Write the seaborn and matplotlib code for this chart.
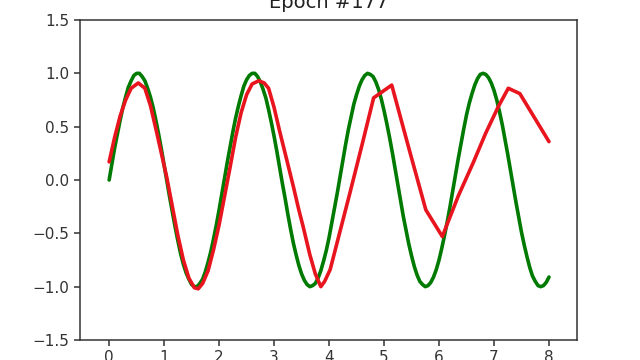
import matplotlib
matplotlib.use("Agg")
import matplotlib.pyplot as plt
import seaborn as sns
import numpy as np
import pandas as pd

title = "Epoch #177"

# green target curve, read every 0.1 on x from 0 to 8
green_x = [round(0.1 * i, 1) for i in range(81)]
green_y = [0.00, 0.30, 0.56, 0.78, 0.93, 1.00, 0.97, 0.86, 0.68, 0.43,
           0.14, -0.16, -0.44, -0.69, -0.87, -0.98, -1.00, -0.93, -0.77, -0.55,
           -0.28, 0.02, 0.31, 0.58, 0.79, 0.94, 1.00, 0.97, 0.85, 0.66,
           0.41, 0.12, -0.17, -0.46, -0.70, -0.88, -0.98, -0.99, -0.92, -0.76,
           -0.54, -0.26, 0.03, 0.33, 0.59, 0.80, 0.94, 1.00, 0.97, 0.85,
           0.65, 0.40, 0.11, -0.19, -0.47, -0.71, -0.89, -0.98, -0.99, -0.91,
           -0.75, -0.52, -0.25, 0.05, 0.34, 0.61, 0.81, 0.95, 1.00, 0.96,
           0.84, 0.64, 0.38, 0.09, -0.21, -0.49, -0.72, -0.90, -0.99, -0.99,
           -0.91]
# green values read half-way between those points (x = 0.05, 0.15, ... 7.95)
green_mid_x = [round(0.05 + 0.1 * i, 2) for i in range(80)]
green_mid_y = [0.15, 0.43, 0.68, 0.87, 0.98, 1.00, 0.93, 0.78, 0.56, 0.29,
               -0.01, -0.30, -0.57, -0.79, -0.93, -1.00, -0.97, -0.86, -0.67, -0.42,
               -0.13, 0.17, 0.45, 0.69, 0.88, 0.98, 1.00, 0.92, 0.77, 0.54,
               0.27, -0.03, -0.32, -0.59, -0.80, -0.94, -1.00, -0.97, -0.85, -0.66,
               -0.40, -0.12, 0.18, 0.47, 0.71, 0.88, 0.98, 0.99, 0.92, 0.76,
               0.53, 0.26, -0.04, -0.34, -0.60, -0.81, -0.95, -1.00, -0.96, -0.84,
               -0.64, -0.39, -0.10, 0.20, 0.48, 0.72, 0.89, 0.99, 0.99, 0.91,
               0.75, 0.52, 0.24, -0.06, -0.35, -0.61, -0.82, -0.95, -1.00, -0.96]

# red predicted curve
red_x = [0.00, 0.10, 0.20, 0.30, 0.40, 0.53, 0.65, 0.75, 0.85, 0.95,
         1.05, 1.15, 1.25, 1.35, 1.45, 1.55, 1.62, 1.70, 1.80, 1.90,
         2.00, 2.10, 2.20, 2.30, 2.40, 2.50, 2.60, 2.72, 2.82, 2.90,
         3.00, 3.10, 3.23, 3.35, 3.45, 3.53, 3.65, 3.75, 3.85, 3.92,
         4.02, 4.20, 4.38, 4.60, 4.81, 5.14, 5.45, 5.76, 6.06, 6.35,
         6.62, 6.85, 7.08, 7.26, 7.47, 8.00]
red_y = [0.17, 0.40, 0.60, 0.75, 0.86, 0.91, 0.86, 0.70, 0.48, 0.25,
         0.02, -0.25, -0.52, -0.75, -0.92, -1.01, -1.02, -0.97, -0.85, -0.65,
         -0.42, -0.15, 0.12, 0.40, 0.63, 0.80, 0.90, 0.93, 0.91, 0.86,
         0.68, 0.46, 0.19, -0.06, -0.28, -0.44, -0.70, -0.88, -1.00, -0.95,
         -0.84, -0.48, -0.12, 0.33, 0.77, 0.89, 0.30, -0.28, -0.53, -0.15,
         0.16, 0.44, 0.69, 0.86, 0.81, 0.36]

yticks = [-1.5, -1.0, -0.5, 0.0, 0.5, 1.0, 1.5]
xticks = [0, 1, 2, 3, 4, 5, 6, 7, 8]

sns.set_theme(style="ticks")
plt.rcParams["font.family"] = ["DejaVu Sans"]
plt.rcParams["axes.edgecolor"] = "#333333"
plt.rcParams["xtick.color"] = "#333333"
plt.rcParams["ytick.color"] = "#333333"
plt.rcParams["axes.linewidth"] = 1.1

fig = plt.figure(figsize=(6.4, 3.6), dpi=100)
ax = fig.add_axes([0.125, 0.0556, 0.7766, 0.8888])

gdf = pd.concat([pd.DataFrame({"x": green_x, "y": green_y}),
                 pd.DataFrame({"x": green_mid_x, "y": green_mid_y})]).sort_values("x")
rdf = pd.DataFrame({"x": red_x, "y": red_y})
sns.lineplot(data=gdf, x="x", y="y", ax=ax, color="#007a00", linewidth=2.6, sort=True)
sns.lineplot(data=rdf, x="x", y="y", ax=ax, color="#e8141e", linewidth=2.6, sort=False)

ax.set_xlim(-0.53, 8.51)
ax.set_ylim(-1.5, 1.5)
ax.set_xticks(xticks)
ax.set_xticklabels([str(v) for v in xticks])
ax.set_yticks(yticks)
ax.set_yticklabels([f"{v:.1f}".replace("-", "\u2212") for v in yticks])
ax.tick_params(labelsize=11, length=4, width=1.1, colors="#333333")
ax.set_xlabel("")
ax.set_ylabel("")
for s in ax.spines.values():
    s.set_visible(True)
ax.set_title(title, fontsize=14, pad=9, color="#222222")

fig.savefig("out.png", dpi=100, facecolor="white")
